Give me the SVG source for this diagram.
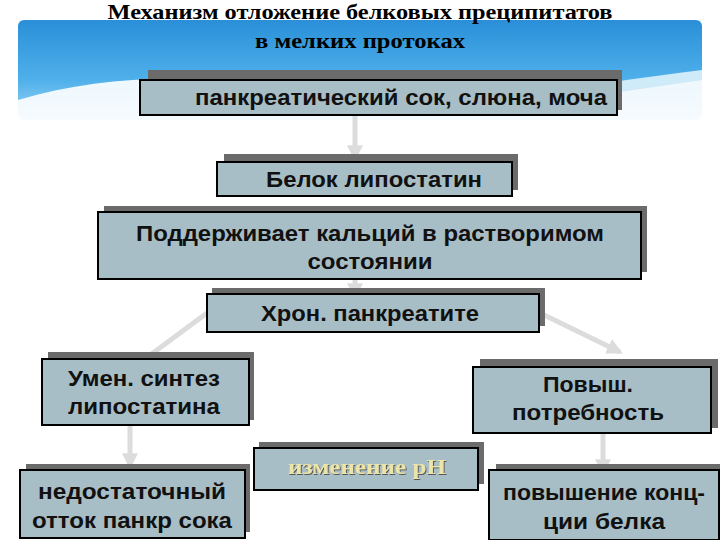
<svg xmlns="http://www.w3.org/2000/svg" width="720" height="540" viewBox="0 0 720 540">
<defs>
<linearGradient id="sky" x1="0" y1="0" x2="0" y2="1">
<stop offset="0" stop-color="#2a8fd8"/><stop offset="0.6" stop-color="#4fb0ea"/><stop offset="1" stop-color="#9fd6f4"/>
</linearGradient>
<marker id="ah" viewBox="0 0 10 10" refX="8" refY="5" markerWidth="3.2" markerHeight="3.2" orient="auto">
<path d="M0,0 L10,5 L0,10 z" fill="#dcdcdc"/>
</marker>
<filter id="ts"><feDropShadow dx="1" dy="1" stdDeviation="0.3" flood-color="#555"/></filter>
</defs>
<style>
.sh{fill:#6b6b6b}
.bx{fill:#a8bec6;stroke:#000;stroke-width:2}
.t{font-family:"Liberation Sans",Arial,sans-serif;font-weight:bold;font-size:22px;fill:#111;text-anchor:middle}
.ti{font-family:"Liberation Serif","Times New Roman",serif;font-weight:bold;font-size:21px;fill:#000;text-anchor:middle}
.c{stroke:#dcdcdc;stroke-width:5;fill:none;marker-end:url(#ah)}
</style>
<rect width="720" height="540" fill="#fff"/>
<rect x="18" y="20" width="684" height="100" rx="6" fill="url(#sky)"/>
<path d="M18,100 C120,70 220,75 330,95 C450,115 560,95 702,78 L702,125 L18,125 z" fill="#fff" opacity="0.9"/>
<path d="M330,100 C450,110 580,85 702,70 L702,80 C580,98 450,118 330,100z" fill="#cfeaf8"/>
<text class="ti" x="360" y="19" textLength="505" lengthAdjust="spacingAndGlyphs">Механизм отложение белковых преципитатов</text>
<text class="ti" x="360" y="48" textLength="210" lengthAdjust="spacingAndGlyphs">в мелких протоках</text>
<g id="connectors">
<line class="c" x1="355" y1="116" x2="355" y2="158"/>
<line class="c" x1="355" y1="280" x2="355" y2="296"/>
<line class="c" x1="207" y1="313" x2="130" y2="370"/>
<line class="c" x1="540" y1="313" x2="620" y2="352"/>
<line class="c" x1="130" y1="426" x2="130" y2="466"/>
<line class="c" x1="603" y1="434" x2="603" y2="472"/>
</g>
<g id="n1"><rect class="sh" x="148" y="70" width="474" height="40"/><rect class="bx" x="140" y="80" width="477" height="35"/><text class="t" x="401" y="105" textLength="412" lengthAdjust="spacingAndGlyphs">панкреатический сок, слюна, моча</text></g>
<g id="n2"><rect class="sh" x="224" y="154" width="294" height="36"/><rect class="bx" x="217" y="162" width="295" height="34"/><text class="t" x="374" y="187" textLength="216" lengthAdjust="spacingAndGlyphs">Белок липостатин</text></g>
<g id="n3"><rect class="sh" x="104" y="206" width="543" height="66"/><rect class="bx" x="98" y="212" width="543" height="67"/><text class="t" x="370" y="241" textLength="468" lengthAdjust="spacingAndGlyphs">Поддерживает кальций в растворимом</text><text class="t" x="370" y="269" textLength="125" lengthAdjust="spacingAndGlyphs">состоянии</text></g>
<g id="n4"><rect class="sh" x="212" y="288" width="333" height="38"/><rect class="bx" x="207" y="294" width="332" height="38"/><text class="t" x="370" y="321" textLength="218" lengthAdjust="spacingAndGlyphs">Хрон. панкреатите</text></g>
<g id="n5"><rect class="sh" x="48" y="352" width="206" height="68"/><rect class="bx" x="42" y="359" width="207" height="66"/><text class="t" x="144" y="386" textLength="152" lengthAdjust="spacingAndGlyphs">Умен. синтез</text><text class="t" x="144" y="414" textLength="152" lengthAdjust="spacingAndGlyphs">липостатина</text></g>
<g id="n6"><rect class="sh" x="480" y="359" width="238" height="69"/><rect class="bx" x="473" y="367" width="238" height="66"/><text class="t" x="588" y="392" textLength="90" lengthAdjust="spacingAndGlyphs">Повыш.</text><text class="t" x="588" y="420" textLength="152" lengthAdjust="spacingAndGlyphs">потребность</text></g>
<g id="n7"><rect class="sh" x="259" y="442" width="225" height="42"/><rect class="bx" x="254" y="448" width="224" height="42"/><text x="367" y="474" font-family="Liberation Serif,serif" font-weight="bold" font-size="22" fill="#ece4a8" text-anchor="middle" filter="url(#ts)" textLength="158" lengthAdjust="spacingAndGlyphs">изменение pH</text></g>
<g id="n8"><rect class="sh" x="26" y="464" width="224" height="68"/><rect class="bx" x="20" y="470" width="225" height="68"/><text class="t" x="132" y="499" textLength="188" lengthAdjust="spacingAndGlyphs">недостаточный</text><text class="t" x="132" y="528" textLength="200" lengthAdjust="spacingAndGlyphs">отток панкр сока</text></g>
<g id="n9"><rect class="sh" x="496" y="464" width="230" height="70"/><rect class="bx" x="489" y="470" width="230" height="70"/><text class="t" x="604" y="500" textLength="202" lengthAdjust="spacingAndGlyphs">повышение конц-</text><text class="t" x="604" y="529" textLength="122" lengthAdjust="spacingAndGlyphs">ции белка</text></g>
</svg>
